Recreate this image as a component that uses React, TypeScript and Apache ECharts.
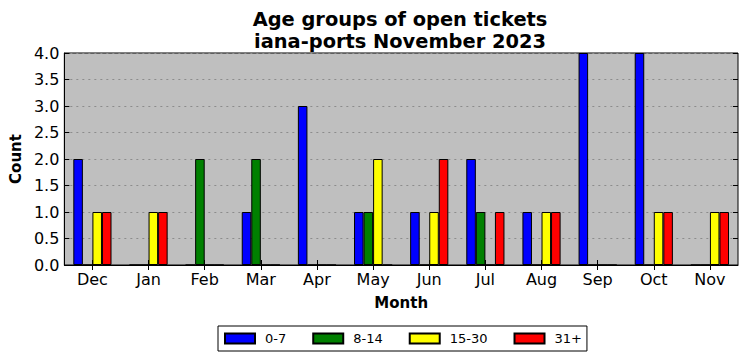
import React, { useEffect, useRef } from "react";
import * as echarts from "echarts";

const months = ["Dec", "Jan", "Feb", "Mar", "Apr", "May", "Jun", "Jul", "Aug", "Sep", "Oct", "Nov"];
const age0to7 = [2, 0, 0, 1, 3, 1, 1, 2, 1, 4, 4, 0];
const age8to14 = [0, 0, 2, 2, 0, 1, 0, 1, 0, 0, 0, 0];
const age15to30 = [1, 1, 0, 0, 0, 2, 1, 0, 1, 0, 1, 1];
const age31plus = [1, 1, 0, 0, 0, 0, 2, 1, 1, 0, 1, 1];
const seriesNames = ["0-7", "8-14", "15-30", "31+"];
const seriesColors = ["#0000ff", "#008000", "#ffff00", "#ff0000"];

const FONT = "DejaVu Sans";

export default function App() {
  const ref = useRef<HTMLDivElement>(null);
  useEffect(() => {
    if (!ref.current) return;
    const chart = echarts.init(ref.current, null, { renderer: "svg" });
    const data = [age0to7, age8to14, age15to30, age31plus];
    chart.setOption({
      animation: false,
      backgroundColor: "#ffffff",
      textStyle: { fontFamily: FONT, color: "#000" },
      title: {
        text: "Age groups of open tickets\niana-ports November 2023",
        left: 400,
        top: 8,
        padding: 0,
        textAlign: "center",
        textStyle: { fontFamily: FONT, fontWeight: "bold", fontSize: 19.4, lineHeight: 22, color: "#000" },
      },
      legend: {
        left: 218,
        top: 326,
        orient: "horizontal",
        padding: [6, 5, 6, 6],
        borderColor: "#000",
        borderWidth: 1,
        itemWidth: 30,
        itemHeight: 10,
        itemGap: 26,
        icon: "rect",
        textStyle: { fontFamily: FONT, fontSize: 13, color: "#000", padding: [0, 0, 0, 5] },
        data: seriesNames,
      },
      grid: {
        left: 62,
        right: 9,
        top: 53,
        bottom: 96,
        show: true,
        backgroundColor: "#bfbfbf",
        borderColor: "#000",
        borderWidth: 1,
        containLabel: false,
      },
      xAxis: [
        {
          type: "category",
          data: months,
          name: "Month",
          nameLocation: "middle",
          nameGap: 30,
          nameTextStyle: { fontFamily: FONT, fontWeight: "bold", fontSize: 15, color: "#000", verticalAlign: "top" },
          axisLine: { show: true, lineStyle: { color: "#000", width: 1 } },
          axisTick: { show: true, inside: true, alignWithLabel: true, interval: 0, length: 5, lineStyle: { color: "#000" } },
          axisLabel: { fontFamily: FONT, fontSize: 16, color: "#000", margin: 6, interval: 0 },
          splitLine: { show: false },
        },
        {
          type: "category",
          data: months,
          position: "top",
          axisLine: { show: false },
          axisTick: { show: true, inside: true, alignWithLabel: true, interval: 0, length: 5, lineStyle: { color: "#000" } },
          axisLabel: { show: false },
          splitLine: { show: false },
        },
      ],
      yAxis: [
        {
          type: "value",
          min: 0,
          max: 4,
          interval: 0.5,
          name: "Count",
          nameLocation: "middle",
          nameGap: 39,
          nameTextStyle: { fontFamily: FONT, fontWeight: "bold", fontSize: 15, color: "#000" },
          axisLine: { show: true, lineStyle: { color: "#000", width: 1 } },
          axisTick: { show: true, inside: true, length: 5, lineStyle: { color: "#000" } },
          axisLabel: { fontFamily: FONT, fontSize: 16, color: "#000", margin: 5, formatter: (v: number) => v.toFixed(1) },
          splitLine: { show: true, lineStyle: { color: "#8c8c8c", type: [2, 4], width: 1 } },
        },
        {
          type: "value",
          min: 0,
          max: 4,
          interval: 0.5,
          position: "right",
          axisLine: { show: false },
          axisTick: { show: true, inside: true, length: 5, lineStyle: { color: "#000" } },
          axisLabel: { show: false },
          splitLine: { show: false },
        },
      ],
      series: seriesNames.map((name, i) => ({
        name,
        type: "bar",
        xAxisIndex: 0,
        yAxisIndex: 0,
        data: data[i],
        barWidth: "17%",
        barGap: "0%",
        itemStyle: { color: seriesColors[i], borderColor: "#000", borderWidth: 1 },
      })),
    });
    return () => chart.dispose();
  }, []);
  return <div ref={ref} style={{ position: "fixed", left: 0, top: 0, width: 747, height: 361 }} />;
}
